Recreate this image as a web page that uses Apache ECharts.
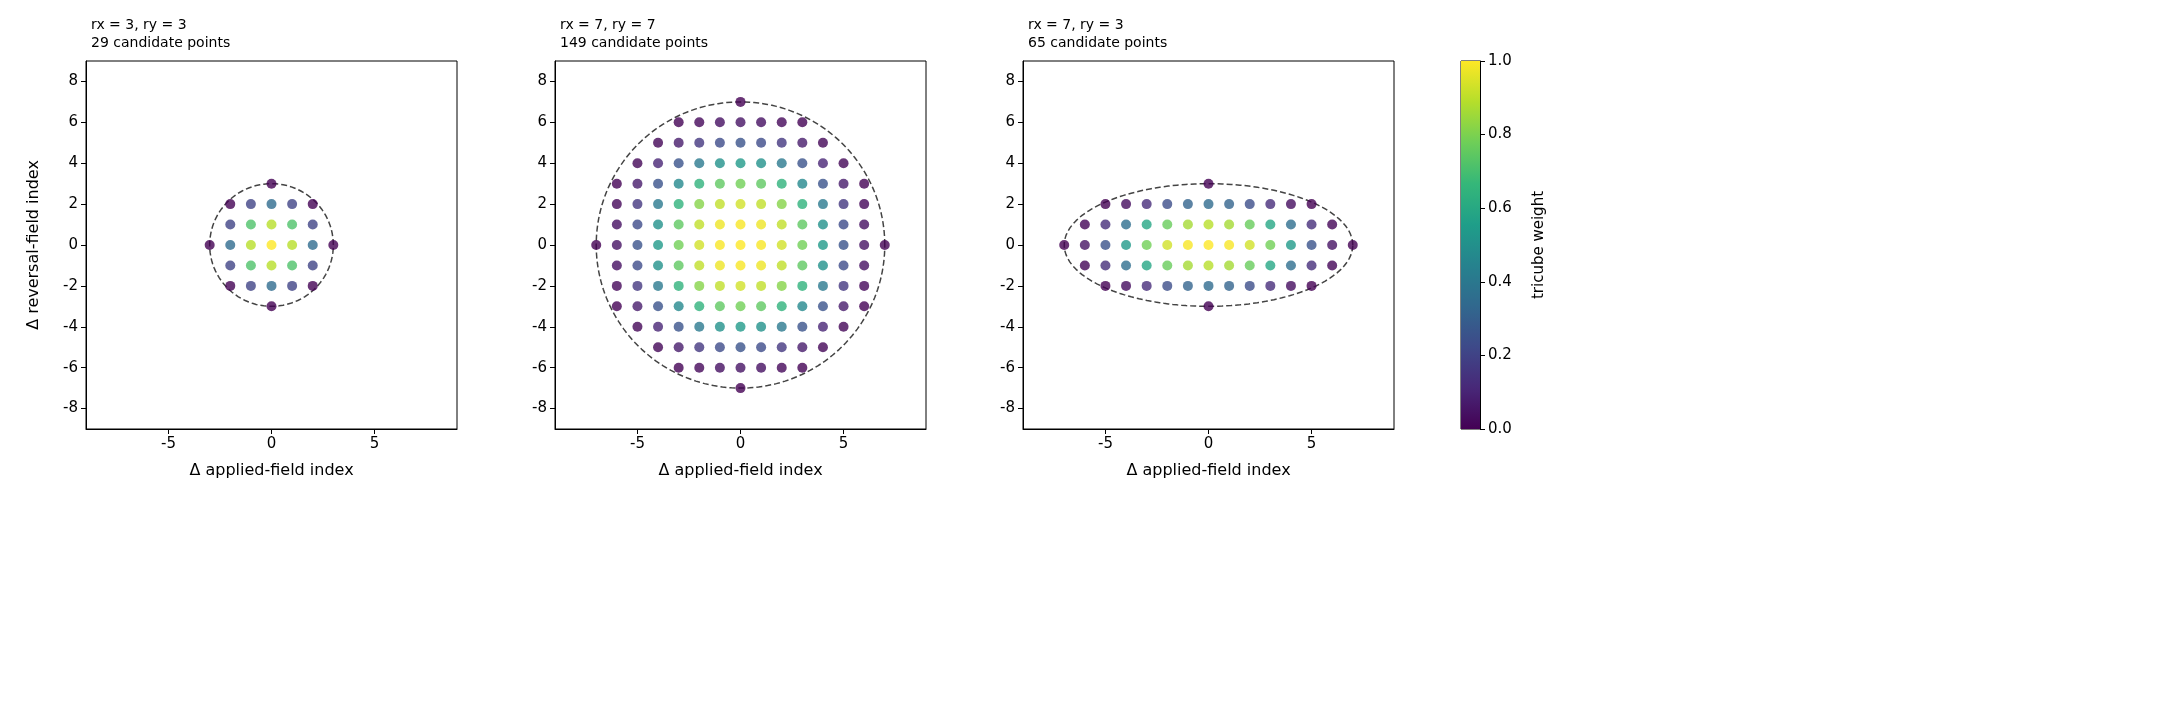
<!DOCTYPE html>
<html><head><meta charset="utf-8">
<script src="https://cdn.jsdelivr.net/npm/echarts@6/dist/echarts.min.js"></script>
<style>html,body{margin:0;padding:0;background:#fff}#c{width:2158px;height:703px}</style>
</head><body><div id="c"></div>
<script>
// Panel definitions
const panelTitles = ['rx = 3, ry = 3\n29 candidate points','rx = 7, ry = 7\n149 candidate points','rx = 7, ry = 3\n65 candidate points'];
const radiiX = [3, 7, 7];
const radiiY = [3, 7, 3];
// max |dx| of candidate points per row dy = 0,1,2,... (symmetric in dy)
const rowHalfWidths = [
  [3, 2, 2, 0],
  [7, 6, 6, 6, 5, 4, 3, 0],
  [7, 6, 5, 0]
];
const xTicks = [-5, 0, 5];
const yTicks = [-8, -6, -4, -2, 0, 2, 4, 6, 8];
const cbTicks = [0, 0.2, 0.4, 0.6, 0.8, 1.0];
const viridis = ['#440154','#482878','#3e4989','#31688e','#26828e','#1f9e89','#35b779','#6ece58','#b5de2b','#fde725'];

function points(p){
  const out=[]; const rx=radiiX[p], ry=radiiY[p];
  rowHalfWidths[p].forEach((hw,dy)=>{
    [dy,-dy].forEach((y,k)=>{ if(dy===0&&k===1) return;
      for(let x=-hw;x<=hw;x++){
        const d=Math.sqrt((x/rx)**2+(y/ry)**2);
        const w=Math.pow(1-Math.pow(Math.min(d,1),3),3);
        out.push([x,y,w]);
      }});
  });
  return out;
}
function ellipse(p){
  const out=[];for(let i=0;i<=200;i++){const t=i/200*2*Math.PI;out.push([radiiX[p]*Math.cos(t),radiiY[p]*Math.sin(t)]);}return out;
}
const lefts=[86,555,1023], W=371, gTop=61, H=368;
const grids=[],xAxes=[],yAxes=[],series=[],titles=[];
const axisLine={show:true,onZero:false,lineStyle:{color:'#000',width:1}};
for(let p=0;p<3;p++){
  grids.push({left:lefts[p],top:gTop,width:W,height:H,show:true,borderColor:'#000',borderWidth:1});
  xAxes.push({gridIndex:p,type:'value',min:-9,max:9,axisLine,splitLine:{show:false},
    axisTick:{customValues:xTicks,length:5,lineStyle:{color:'#000'}},
    axisLabel:{customValues:xTicks,color:'#000',fontSize:15,fontFamily:'DejaVu Sans',margin:8},
    name:'Δ applied-field index',nameLocation:'middle',nameGap:34,nameTextStyle:{fontSize:16,color:'#000',fontFamily:'DejaVu Sans'}});
  yAxes.push({gridIndex:p,type:'value',min:-9,max:9,axisLine,splitLine:{show:false},
    axisTick:{customValues:yTicks,length:5,lineStyle:{color:'#000'}},
    axisLabel:{customValues:yTicks,color:'#000',fontSize:15,fontFamily:'DejaVu Sans',margin:8},
    name:p===0?'Δ reversal-field index':'',nameLocation:'middle',nameGap:44,nameTextStyle:{fontSize:16,color:'#000',fontFamily:'DejaVu Sans'}});
  series.push({type:'line',xAxisIndex:p,yAxisIndex:p,data:ellipse(p),showSymbol:false,silent:true,
    lineStyle:{color:'#444',width:1.5,type:[6,3]},z:1});
  series.push({type:'scatter',xAxisIndex:p,yAxisIndex:p,data:points(p),symbolSize:10,z:2});
  titles.push({text:panelTitles[p],left:lefts[p],top:11,textStyle:{fontSize:14,fontWeight:'normal',color:'#000',fontFamily:'DejaVu Sans',lineHeight:18}});
}
// colorbar
grids.push({left:1461,top:gTop,width:19,height:H,show:true,borderColor:'#000',borderWidth:1});
xAxes.push({gridIndex:3,type:'category',data:[''],show:false});
yAxes.push({gridIndex:3,type:'value',position:'right',min:0,max:1,interval:0.2,axisLine:{show:true,lineStyle:{color:'#000'}},
  axisTick:{show:true,length:5,lineStyle:{color:'#000'}},splitLine:{show:false},
  axisLabel:{color:'#000',fontSize:15,fontFamily:'DejaVu Sans',formatter:v=>v.toFixed(1)},
  name:'tricube weight',nameLocation:'middle',nameGap:52,nameRotate:90,nameTextStyle:{fontSize:15,color:'#000',fontFamily:'DejaVu Sans'}});
series.push({type:'bar',xAxisIndex:3,yAxisIndex:3,data:[1],barWidth:'100%',silent:true,
  itemStyle:{color:new echarts.graphic.LinearGradient(0,1,0,0,viridis.map((c,i)=>({offset:i/(viridis.length-1),color:c})))}});
const chart=echarts.init(document.getElementById('c'),null,{renderer:'canvas'});
chart.setOption({animation:false,backgroundColor:'#fff',title:titles,grid:grids,xAxis:xAxes,yAxis:yAxes,series,
  visualMap:{type:'continuous',show:false,min:0,max:1,dimension:2,seriesIndex:[1,3,5],inRange:{color:viridis}}});
</script></body></html>
